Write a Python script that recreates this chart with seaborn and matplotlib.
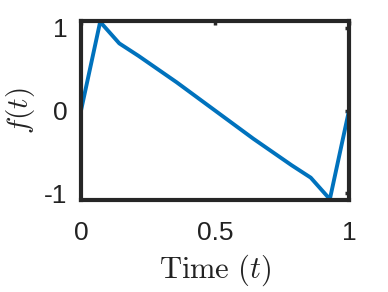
import pandas as pd
import matplotlib
matplotlib.use('Agg')
import matplotlib.pyplot as plt
import seaborn as sns

# 資料
t_vals = [0, 1/14, 2/14, 3/14, 4/14, 5/14, 6/14, 7/14,
          8/14, 9/14, 10/14, 11/14, 12/14, 13/14, 1]
f_vals = [0, 1.07, 0.81, 0.66, 0.50, 0.34, 0.17, 0.0,
          -0.17, -0.34, -0.50, -0.66, -0.81, -1.07, 0]
x_ticks = [0, 0.5, 1]
y_ticks = [-1, 0, 1]
x_ticklabels = ['0', '0.5', '1']
y_ticklabels = ['-1', '0', '1']

sns.set_style('white')
plt.rcParams['font.family'] = ['Liberation Sans', 'DejaVu Sans']
plt.rcParams['mathtext.fontset'] = 'cm'
plt.rcParams['axes.unicode_minus'] = False

df = pd.DataFrame({'t': t_vals, 'f': f_vals})

fig = plt.figure(figsize=(3.88, 2.92), dpi=100)
ax = fig.add_axes([0.2088, 0.315, 0.6907, 0.613])
sns.lineplot(data=df, x='t', y='f', ax=ax, color='#0072BD', linewidth=2.8, sort=False)

ax.set_xlim(0, 1)
ax.set_ylim(-1.08, 1.08)
ax.set_xticks(x_ticks)
ax.set_xticklabels(x_ticklabels)
ax.set_yticks(y_ticks)
ax.set_yticklabels(y_ticklabels)
ax.tick_params(direction='in', length=3, width=2.5, color='#262626',
               labelsize=19, labelcolor='#222222', top=True, right=True)
ax.tick_params(axis='x', pad=15)
ax.tick_params(axis='y', pad=10)
for s in ax.spines.values():
    s.set_linewidth(3)
    s.set_color('#262626')

ax.set_xlabel(r'$\mathrm{Time}\ (t)$', fontsize=22, color='#222222')
ax.set_ylabel(r'$f(t)$', fontsize=21, color='#222222')
ax.xaxis.set_label_coords(0.5, -0.295)
ax.yaxis.set_label_coords(-0.165, 0.5)

fig.savefig('out.png', dpi=100)
